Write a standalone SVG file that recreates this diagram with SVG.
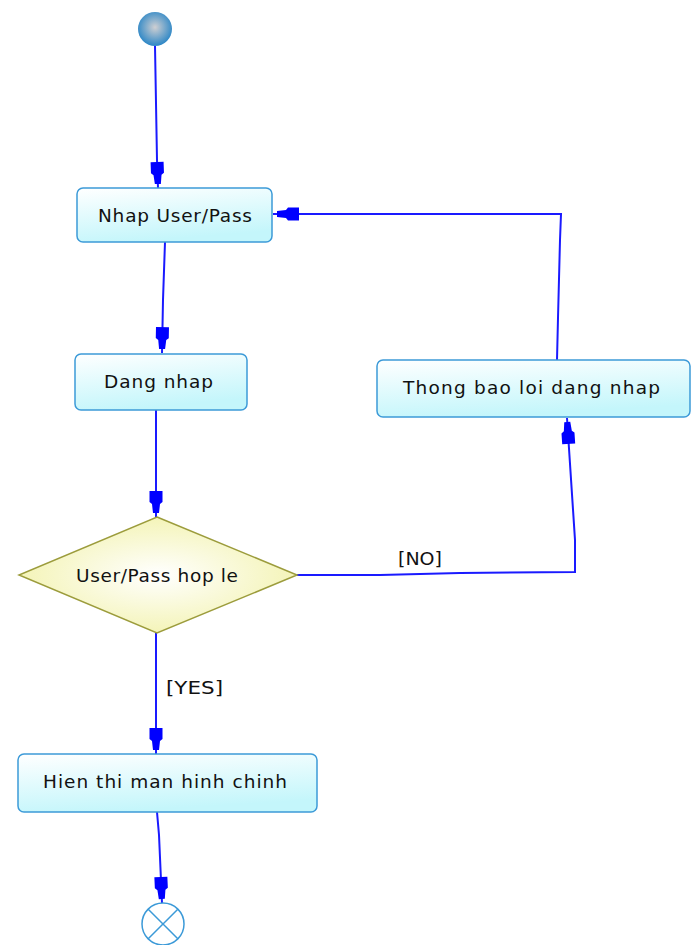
<svg xmlns="http://www.w3.org/2000/svg" width="692" height="945" viewBox="0 0 692 945">
<defs>
<linearGradient id="boxg" x1="0" y1="0" x2="0.3" y2="1">
<stop offset="0" stop-color="#ffffff"/>
<stop offset="1" stop-color="#c4f6fb"/>
</linearGradient>
<radialGradient id="diag" cx="0.5" cy="0.5" r="0.5">
<stop offset="0" stop-color="#ffffff"/>
<stop offset="1" stop-color="#f4f4b8"/>
</radialGradient>
<radialGradient id="startg" cx="0.5" cy="0.45" r="0.55">
<stop offset="0" stop-color="#cfcfd2"/>
<stop offset="1" stop-color="#2b86c6"/>
</radialGradient>
<marker id="arr" markerUnits="userSpaceOnUse" markerWidth="32" markerHeight="18" viewBox="-28 -9 30 18" refX="0" refY="0" orient="auto">
<polygon points="-26,-6.5 -15,-6.5 -13,-4 -4,-3 -4,3 -13,4 -15,6.5 -26,6.5" fill="#0000ff"/>
</marker>
<style>
.box{fill:url(#boxg);stroke:#3c9ad8;stroke-width:1.5}
.lbl{font-family:"DejaVu Sans","Liberation Sans",Arial,sans-serif;font-size:18.5px;fill:#111}
.con{fill:none;stroke:#1a1aff;stroke-width:2}
</style>
</defs>
<g id="connectors">
<polyline class="con" points="155,46 157,160 158,188" marker-end="url(#arr)"/>
<polyline class="con" points="165,242 163,300 162,353" marker-end="url(#arr)"/>
<polyline class="con" points="156,410 156,517" marker-end="url(#arr)"/>
<polyline class="con" points="156,633 156,754" marker-end="url(#arr)"/>
<polyline class="con" points="297,575 380,575 460,573 575,572 575,540 567,418" marker-end="url(#arr)"/>
<polyline class="con" points="557,360 558,318 560,240 561,214 273,214" marker-end="url(#arr)"/>
<polyline class="con" points="157,812 159,835 162,903" marker-end="url(#arr)"/>
<text class="lbl" x="398" y="565" textLength="44" lengthAdjust="spacingAndGlyphs">[NO]</text>
<text class="lbl" x="166" y="694" textLength="57" lengthAdjust="spacingAndGlyphs">[YES]</text>
</g>
<g id="start">
<circle cx="155" cy="29" r="17" fill="url(#startg)"/>
</g>
<g id="nhap">
<rect class="box" x="77" y="188" width="195" height="54" rx="6"/>
<text class="lbl" x="98" y="222" textLength="154" lengthAdjust="spacing">Nhap User/Pass</text>
</g>
<g id="dangnhap">
<rect class="box" x="75" y="354" width="172" height="56" rx="6"/>
<text class="lbl" x="104" y="388" textLength="109" lengthAdjust="spacing">Dang nhap</text>
</g>
<g id="thongbao">
<rect class="box" x="377" y="360" width="313" height="57" rx="6"/>
<text class="lbl" x="403" y="394" textLength="257" lengthAdjust="spacing">Thong bao loi dang nhap</text>
</g>
<g id="decision">
<polygon points="157,517 297,575 157,633 19,575" fill="url(#diag)" stroke="#9c9c3c" stroke-width="1.5"/>
<text class="lbl" x="76" y="582" textLength="162" lengthAdjust="spacing">User/Pass hop le</text>
</g>
<g id="hienthi">
<rect class="box" x="18" y="754" width="299" height="58" rx="6"/>
<text class="lbl" x="43" y="788" textLength="244" lengthAdjust="spacing">Hien thi man hinh chinh</text>
</g>
<g id="end">
<circle cx="163" cy="924" r="21" fill="#ffffff" stroke="#3c9ad8" stroke-width="1.5"/>
<line x1="148.2" y1="909.2" x2="177.8" y2="938.8" stroke="#3c9ad8" stroke-width="1.5"/>
<line x1="177.8" y1="909.2" x2="148.2" y2="938.8" stroke="#3c9ad8" stroke-width="1.5"/>
</g>
</svg>
